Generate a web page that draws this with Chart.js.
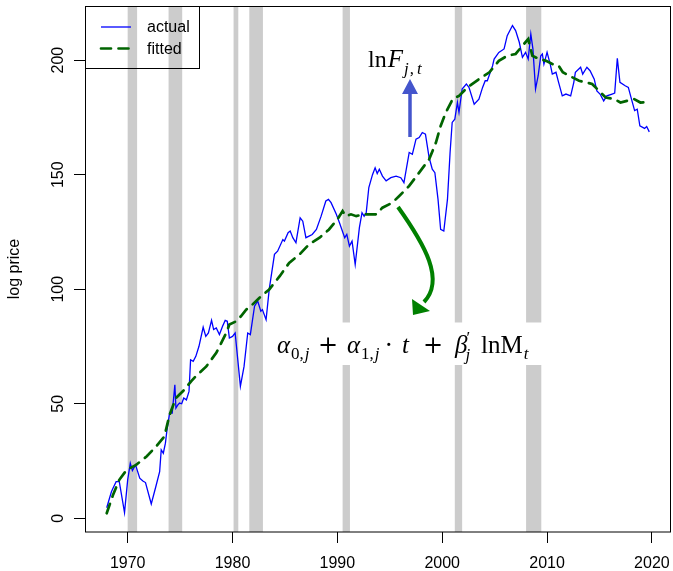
<!DOCTYPE html>
<html><head><meta charset="utf-8">
<style>html,body{margin:0;padding:0;background:#fff;}canvas{display:block;}</style>
<script src="https://cdn.jsdelivr.net/npm/chart.js@4.4.1/dist/chart.umd.min.js"></script>
</head><body>
<canvas id="c" width="673" height="571"></canvas>
<script>
const actualT = [1968.0,1968.45,1968.6,1968.9,1969.2,1969.7,1970.0,1970.25,1970.45,1970.75,1971.15,1971.45,1971.7,1972.25,1972.7,1973.05,1973.2,1973.4,1973.6,1973.75,1974.0,1974.25,1974.5,1974.6,1974.8,1974.95,1975.15,1975.35,1975.6,1975.85,1976.0,1976.25,1976.5,1976.8,1977.2,1977.45,1977.7,1978.0,1978.2,1978.45,1978.75,1979.05,1979.3,1979.5,1979.7,1980.0,1980.25,1980.75,1981.1,1981.45,1981.7,1982.1,1982.4,1982.7,1982.85,1983.2,1983.5,1984.0,1984.3,1984.8,1984.95,1985.3,1985.5,1985.75,1986.05,1986.45,1986.7,1987.0,1987.3,1987.6,1988.0,1988.45,1988.9,1989.15,1989.4,1989.9,1990.2,1990.7,1990.9,1991.15,1991.4,1991.7,1992.1,1992.35,1992.55,1992.75,1993.0,1993.35,1993.6,1993.8,1994.0,1994.3,1994.65,1995.1,1995.6,1996.05,1996.35,1996.85,1997.15,1997.5,1997.8,1998.1,1998.4,1998.75,1999.05,1999.3,1999.6,1999.85,2000.15,2000.5,2000.75,2000.95,2001.2,2001.45,2001.6,2001.9,2002.3,2002.55,2003.05,2003.5,2003.85,2004.1,2004.3,2004.8,2004.95,2005.4,2005.9,2006.2,2006.7,2007.0,2007.35,2007.65,2007.95,2008.2,2008.45,2008.65,2008.9,2009.15,2009.4,2009.55,2009.7,2010.0,2010.3,2010.5,2010.85,2011.1,2011.45,2011.8,2012.25,2012.55,2012.7,2013.2,2013.4,2013.8,2014.1,2014.5,2014.75,2015.05,2015.4,2015.7,2016.2,2016.45,2016.7,2016.95,2017.45,2017.75,2018.05,2018.35,2018.6,2018.85,2019.3,2019.5,2019.75];
const actualV = [4.6,11.6,13.1,16.0,16.0,2.5,16.8,24.0,20.8,23.3,17.5,16.3,15.6,6.3,14.1,20.4,29.9,28.4,32.8,38.6,45.9,45.9,58.3,48.1,49.6,50.3,50.0,52.5,51.7,55.4,69.2,68.5,70.7,75.1,83.4,79.4,80.9,86.4,82.4,83.1,80.2,83.8,86.4,86.0,78.7,79.4,80.9,57.6,66.3,80.9,80.2,92.6,94.8,90.4,91.1,86.7,99.9,115.2,116.6,121.7,121.0,124.7,125.4,122.5,120.3,131.2,129.7,122.5,123.2,123.9,126.1,131.9,138.5,139.2,137.8,132.7,129.0,122.5,123.9,118.8,121.0,110.8,126.9,133.4,131.9,133.4,144.4,150.0,153.0,150.5,152.4,149.4,147.3,148.7,149.4,148.7,146.5,159.7,158.9,165.5,166.2,168.4,167.7,157.5,152.4,150.9,139.2,126.1,125.4,139.2,159.7,172.8,174.2,181.5,177.2,187.4,189.6,188.1,180.8,183.0,188.1,191.0,191.0,197.5,200.5,203.4,204.9,210.7,215.1,212.9,207.8,201.2,203.4,200.5,211.4,204.9,187.4,193.2,201.9,202.7,198.3,203.4,198.3,193.9,194.7,190.3,184.4,185.2,184.4,190.3,194.7,196.9,193.9,196.9,195.4,191.7,186.6,185.2,182.2,184.4,185.2,185.6,200.8,190.3,188.8,188.1,183.0,178.0,178.6,171.3,170.2,171.0,168.7];
const fittedT = [1968.0,1968.6,1969.2,1969.9,1970.8,1971.8,1972.7,1973.5,1974.0,1974.6,1975.4,1976.05,1976.5,1977.5,1978.45,1979.4,1979.7,1980.35,1980.8,1981.3,1981.9,1982.55,1983.5,1984.5,1985.4,1986.4,1987.3,1988.3,1989.2,1990.0,1990.5,1990.8,1991.3,1991.8,1992.4,1993.05,1993.7,1994.3,1995.25,1995.9,1996.85,1997.8,1998.75,1999.4,1999.85,2000.35,2001.0,2001.6,2002.4,2003.5,2004.5,2005.4,2006.2,2007.0,2007.65,2008.2,2008.6,2009.25,2009.9,2010.5,2011.1,2011.5,2012.1,2013.05,2014.3,2014.95,2015.6,2016.4,2017.0,2018.3,2018.9,2019.75];
const fittedV = [2.2,10.2,16.8,21.1,23.3,27.0,31.3,35.7,45.2,52.5,56.1,59.8,62.0,66.3,72.2,80.9,84.6,86.0,88.2,91.1,93.3,96.2,99.9,105.7,111.5,115.2,119.6,122.5,126.1,130.5,134.1,131.9,132.7,131.9,132.7,132.7,132.7,135.6,137.8,140.7,145.1,150.9,156.7,164.0,171.3,177.2,183.0,184.4,188.1,191.7,194.7,199.7,201.9,202.7,206.3,209.2,201.9,200.5,199.7,198.3,197.6,194.7,193.2,191.0,189.6,186.6,183.7,183.0,181.5,183.0,181.5,181.8];
const xTicks = [1970,1980,1990,2000,2010,2020];
const yTicks = [0,50,100,150,200];
const recessionStart = [1970.0,1973.9,1980.1,1981.6,1990.5,2001.2,2008.0];
const recessionEnd = [1970.9,1975.2,1980.55,1982.9,1991.2,2001.9,2009.45];
const seriesLabels = ['actual','fitted'];
const yTitle = 'log price';

const SANS = '"Liberation Sans", Arial, sans-serif';
const SERIF = '"Liberation Serif", "Times New Roman", serif';
const DSERIF = '"DejaVu Serif", serif';

function setFont(ctx, size, italic, fam) {
  ctx.font = (italic ? 'italic ' : '') + size + 'px ' + (fam || SERIF);
}
function txt(ctx, s, x, y, size, italic, fam) {
  setFont(ctx, size, italic, fam);
  ctx.fillText(s, x, y);
  return x + ctx.measureText(s).width;
}

const decor = {
  id: 'decor',
  beforeDatasetsDraw(chart) {
    const {ctx, chartArea: a, scales: {x}} = chart;
    ctx.save();
    ctx.fillStyle = '#CCCCCC';
    for (let i = 0; i < recessionStart.length; i++) {
      const x0 = x.getPixelForValue(recessionStart[i]);
      const x1 = x.getPixelForValue(recessionEnd[i]);
      ctx.fillRect(x0, a.top, x1 - x0, a.bottom - a.top);
    }
    ctx.fillStyle = '#FFFFFF';
    ctx.fillRect(268, 322.5, 290, 42.5);
    ctx.restore();
  },
  afterDatasetsDraw(chart) {
    const {ctx, chartArea: a} = chart;
    const ds = chart.data.datasets;
    ctx.save();
    ctx.strokeStyle = '#000'; ctx.lineWidth = 1;
    ctx.strokeRect(a.left + 0.5, a.top + 0.5, a.right - a.left - 1, a.bottom - a.top - 0.5);
    // legend
    ctx.strokeRect(85.5, 6.5, 114, 62);
    const ly = [27, 48.5];
    for (let i = 0; i < 2; i++) {
      ctx.beginPath();
      ctx.strokeStyle = ds[i].borderColor;
      ctx.lineWidth = ds[i].borderWidth;
      ctx.lineCap = ds[i].borderCapStyle || 'butt';
      ctx.setLineDash(ds[i].borderDash || []);
      ctx.moveTo(101, ly[i]); ctx.lineTo(131, ly[i]);
      ctx.stroke();
      ctx.setLineDash([]);
      ctx.fillStyle = '#000';
      ctx.font = '16px ' + SANS;
      ctx.textBaseline = 'middle';
      ctx.fillText(ds[i].label, 147, ly[i] + 1);
    }
    ctx.textBaseline = 'alphabetic';
    ctx.lineCap = 'butt';
    // blue arrow
    ctx.strokeStyle = '#4455CC'; ctx.fillStyle = '#4455CC'; ctx.lineWidth = 3.5;
    ctx.beginPath(); ctx.moveTo(410, 137); ctx.lineTo(410, 92); ctx.stroke();
    ctx.beginPath(); ctx.moveTo(402, 94); ctx.lineTo(418, 94); ctx.lineTo(410, 79); ctx.closePath(); ctx.fill();
    // green curved arrow
    ctx.strokeStyle = '#008000'; ctx.fillStyle = '#008000'; ctx.lineWidth = 4;
    ctx.beginPath(); ctx.moveTo(398, 207);
    ctx.bezierCurveTo(425, 245, 445, 280, 424, 302);
    ctx.stroke();
    ctx.beginPath(); ctx.moveTo(413, 315); ctx.lineTo(412, 299); ctx.lineTo(430, 311); ctx.closePath(); ctx.fill();
    // lnF label
    ctx.fillStyle = '#000';
    let p = txt(ctx, 'ln', 368, 67, 24, false);
    p = txt(ctx, 'F', p + 1, 67, 25, true);
    p = txt(ctx, 'j', p + 1, 74, 17, true);
    p = txt(ctx, ',', p + 1, 74, 17, false);
    txt(ctx, 't', p + 3, 74, 17, true);
    // formula
    const b = 353, sb = 359;
    p = txt(ctx, 'α', 277, b, 25, true);
    p = txt(ctx, '0', p + 1, sb, 17, false);
    p = txt(ctx, ',', p, sb, 17, false);
    txt(ctx, 'j', p + 1, sb, 17, true);
    txt(ctx, '+', 318, b, 24, false, DSERIF);
    p = txt(ctx, 'α', 347, b, 25, true);
    p = txt(ctx, '1', p + 1, sb, 17, false);
    p = txt(ctx, ',', p, sb, 17, false);
    txt(ctx, 'j', p + 1, sb, 17, true);
    txt(ctx, '·', 385, b, 24, false, DSERIF);
    txt(ctx, 't', 402, b, 25, true);
    txt(ctx, '+', 423, b, 24, false, DSERIF);
    p = txt(ctx, 'β', 455, b, 25, true);
    txt(ctx, '′', p - 1, 343, 17, false);
    txt(ctx, 'j', p - 2, sb + 1, 17, true);
    p = txt(ctx, 'ln', 481, b, 25, false);
    p = txt(ctx, 'M', p, b, 25, false);
    txt(ctx, 't', p + 1, sb, 17, true);
    ctx.restore();
  }
};

new Chart(document.getElementById('c'), {
  type: 'line',
  data: {
    datasets: [
      {label: seriesLabels[0], data: actualT.map((t, i) => ({x: t, y: actualV[i]})),
       borderColor: '#0000FF', borderWidth: 1.3, pointRadius: 0, tension: 0, order: 2, fill: false},
      {label: seriesLabels[1], data: fittedT.map((t, i) => ({x: t, y: fittedV[i]})),
       borderColor: '#006400', borderWidth: 2.7, borderDash: [10, 7.5], borderCapStyle: 'round',
       pointRadius: 0, tension: 0, order: 1, fill: false}
    ]
  },
  options: {
    responsive: false, animation: false, events: [],
    layout: {padding: {top: 6, right: 2, left: 0, bottom: 0}},
    plugins: {legend: {display: false}, tooltip: {enabled: false}},
    scales: {
      x: {
        type: 'linear', min: 1965.93, max: 2021.82,
        afterBuildTicks: s => { s.ticks = xTicks.map(v => ({value: v})); },
        afterFit: s => { s.height = 39; s.paddingLeft = 0; s.paddingRight = 0; },
        grid: {drawOnChartArea: false, drawTicks: true, tickLength: 11, color: '#000', lineWidth: 1},
        border: {display: false},
        ticks: {color: '#000', font: {family: SANS, size: 16}, padding: 11, maxRotation: 0, callback: v => String(v)}
      },
      y: {
        type: 'linear', min: -5.98, max: 223.64,
        afterBuildTicks: s => { s.ticks = yTicks.map(v => ({value: v})); },
        afterFit: s => { s.width = 85; s.paddingTop = 0; s.paddingBottom = 0; },
        grid: {drawOnChartArea: false, drawTicks: true, tickLength: 11, color: '#000', lineWidth: 1},
        border: {display: false},
        title: {display: true, text: yTitle, color: '#000', font: {family: SANS, size: 16}, padding: {top: 5, bottom: 0}},
        ticks: {color: '#000', font: {family: SANS, size: 16}, padding: 2, minRotation: 90, maxRotation: 90, crossAlign: 'center', callback: v => String(v)}
      }
    }
  },
  plugins: [decor]
});
</script>
</body></html>
